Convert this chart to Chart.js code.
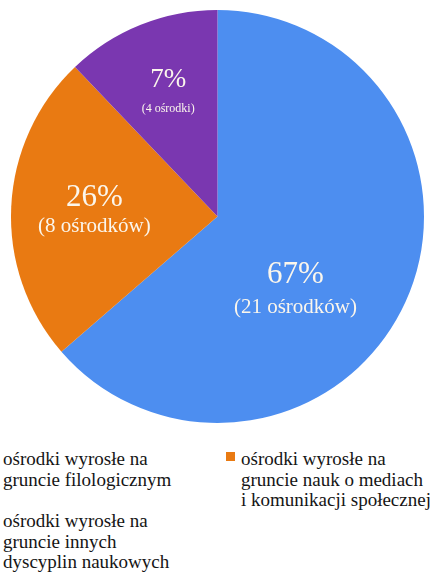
<!DOCTYPE html>
<html>
<head>
<meta charset="utf-8">
<script src="https://cdn.jsdelivr.net/npm/chart.js@4.4.0/dist/chart.umd.min.js"></script>
<style>
  body { margin: 0; background: #fff; overflow: hidden; }
  #wrap { position: relative; width: 435px; height: 433px; }
  #legend { position: absolute; top: 449px; left: 0; width: 435px; font-family: "Liberation Serif", "Times New Roman", serif; font-size: 19px; line-height: 20.5px; color: #151515; }
  .col { position: absolute; top: 0; }
  .item { position: relative; padding-left: 15px; margin-bottom: 21px; white-space: nowrap; }
  .item .box { position: absolute; left: 0; top: 3px; width: 9px; height: 9px; }
</style>
</head>
<body>
<div id="wrap"><canvas id="pie"></canvas></div>
<div id="legend"></div>
<script>
  const categories = [
    ['ośrodki wyrosłe na', 'gruncie filologicznym'],
    ['ośrodki wyrosłe na', 'gruncie nauk o mediach', 'i komunikacji społecznej'],
    ['ośrodki wyrosłe na', 'gruncie innych', 'dyscyplin naukowych']
  ];
  const counts = [21, 8, 4];
  const percentLabels = ['67%', '26%', '7%'];
  const countLabels = ['(21 ośrodków)', '(8 ośrodków)', '(4 ośrodki)'];
  const colors = ['#4d8ef0', '#e97a12', '#7a37b0'];

  // label style per slice: shift from slice centre, baseline offsets, font sizes
  const labelStyle = [
    { dx: -16, big: 24, small: 54, bigSize: 31, smallSize: 21 },
    { dx: -20, big: -6, small: 20, bigSize: 31, smallSize: 21 },
    { dx: -11, big: -34, small: -9, bigSize: 27, smallSize: 12 }
  ];

  const sliceLabels = {
    id: 'sliceLabels',
    afterDatasetsDraw(chart) {
      const ctx = chart.ctx;
      const meta = chart.getDatasetMeta(0);
      ctx.save();
      ctx.fillStyle = '#fbf6ec';
      ctx.textAlign = 'center';
      ctx.textBaseline = 'alphabetic';
      meta.data.forEach((arc, i) => {
        const mid = (arc.startAngle + arc.endAngle) / 2;
        const r = arc.outerRadius / 2;
        const cx = arc.x + Math.cos(mid) * r + labelStyle[i].dx;
        const cy = arc.y + Math.sin(mid) * r;
        ctx.font = labelStyle[i].bigSize + 'px "Liberation Serif"';
        ctx.fillText(percentLabels[i], cx, cy + labelStyle[i].big);
        ctx.font = labelStyle[i].smallSize + 'px "Liberation Serif"';
        ctx.fillText(countLabels[i], cx, cy + labelStyle[i].small);
      });
      ctx.restore();
    }
  };

  new Chart(document.getElementById('pie'), {
    type: 'pie',
    data: {
      labels: categories.map(c => c.join(' ')),
      datasets: [{
        data: counts,
        backgroundColor: colors,
        borderWidth: 0
      }]
    },
    options: {
      responsive: true,
      maintainAspectRatio: false,
      animation: false,
      layout: { padding: 10 },
      plugins: {
        legend: { display: false },
        tooltip: { enabled: false }
      }
    },
    plugins: [sliceLabels]
  });

  // legend: items 0 and 2 in the left column (boxes cut off), item 1 on the right
  const legend = document.getElementById('legend');
  const columns = [{ left: -12, items: [0, 2] }, { left: 226, items: [1] }];
  columns.forEach(col => {
    const div = document.createElement('div');
    div.className = 'col';
    div.style.left = col.left + 'px';
    col.items.forEach(i => {
      const item = document.createElement('div');
      item.className = 'item';
      const box = document.createElement('span');
      box.className = 'box';
      box.style.background = colors[i];
      item.appendChild(box);
      categories[i].forEach(line => {
        const l = document.createElement('div');
        l.textContent = line;
        item.appendChild(l);
      });
      div.appendChild(item);
    });
    legend.appendChild(div);
  });
</script>
</body>
</html>
